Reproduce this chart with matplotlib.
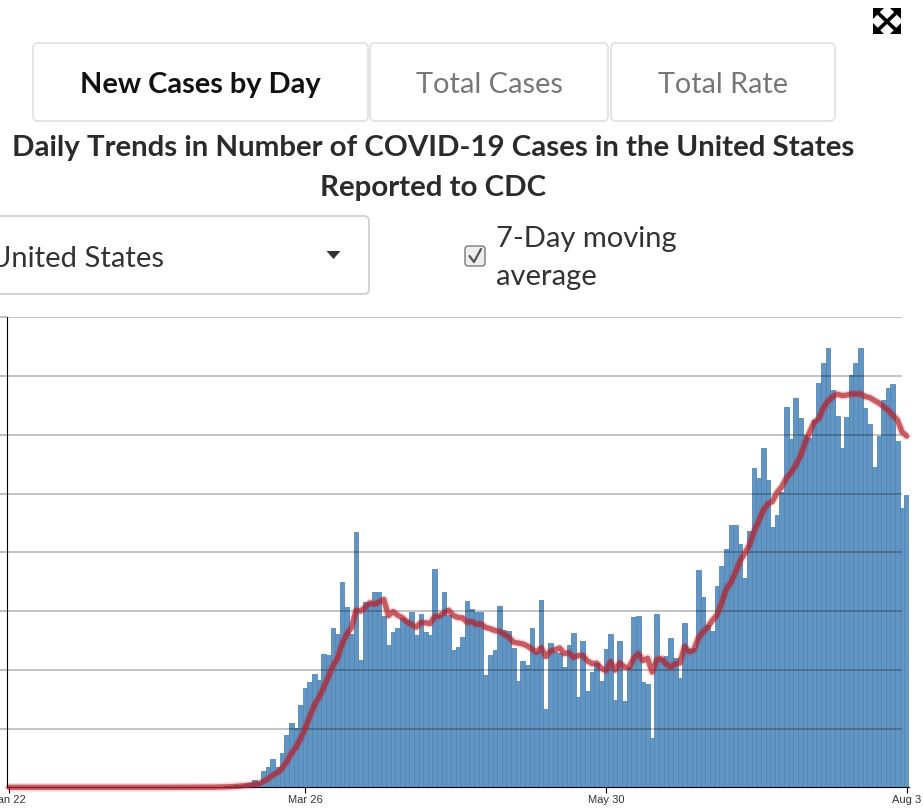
import matplotlib
matplotlib.use('Agg')
import matplotlib.pyplot as plt
from matplotlib.patches import FancyBboxPatch, Polygon
import numpy as np
import pandas as pd

# ---------------- data ----------------
start_date = "2020-01-22"
daily_cases = [
    1, 0, 0, 0, 1, 0, 0, 0, 0, 1, 0, 1, 0, 0, 0, 0, 1, 0, 0, 0,
    0, 0, 0, 0, 0, 0, 0, 0, 1, 0, 0, 0, 1, 2, 3, 5, 8, 6, 9,
    10, 20, 25, 30, 40, 60, 90, 130, 190, 250, 330, 450, 560, 650,
    1250, 900, 2780, 3510, 4820, 3510, 5780, 8900, 10940, 10040, 14000, 16850,
    17870, 19290, 18270, 22690, 22520, 27120, 26100, 34950, 30690, 26100,
    43460, 21670, 31540, 31540, 33240, 33240, 29160, 24220, 26440, 27120,
    28760, 28480, 29840, 25980, 29500, 26440, 25980, 37160, 29330, 33240,
    29330, 23370, 23940, 25640, 31710, 30350, 29840, 29840, 19170, 22460,
    23370, 30860, 26800, 26600, 23710, 18100, 21500, 20880, 27120, 23090,
    31880, 13330, 24560, 23090, 22860, 20540, 24220, 26270, 15370, 24900,
    16390, 19630, 21100, 18100, 23540, 26100, 14860, 24900, 14690, 20540,
    28990, 29160, 17930, 17590, 8400, 29500, 21950, 22350, 25410, 22010,
    18610, 27970, 23500, 23700, 36990, 32390, 27700, 26600, 34260, 37670,
    40560, 44650, 44650, 41410, 35630, 43620, 54350, 52650, 57750, 52310,
    44310, 46350, 50320, 64730, 59280, 66260, 62860, 60000, 59500, 62500,
    68760, 72160, 74710, 67620, 63190, 57800, 63020, 70170, 72270, 74710,
    64560, 61830, 54570, 59790, 65920, 67960, 68640, 58940, 47540, 49750,
]
tick_dates = ["2020-01-22", "2020-03-26", "2020-05-30", "2020-08-03"]
tick_labels = ["Jan 22", "Mar 26", "May 30", "Aug 3"]
y_grid = [10000, 20000, 30000, 40000, 50000, 60000, 70000, 80000]
tab_labels = ["New Cases by Day", "Total Cases", "Total Rate"]
title_lines = ["Daily Trends in Number of COVID-19 Cases in the United States",
               "Reported to CDC"]
region_label = "United States"
checkbox_lines = ["7-Day moving", "average"]

# ---------------- figure ----------------
W, H = 923, 810
fig = plt.figure(figsize=(W / 100, H / 100), dpi=100)
fig.patch.set_facecolor('white')

# UI overlay axes in pixel coordinates
ui = fig.add_axes([0, 0, 1, 1])
ui.set_xlim(0, W)
ui.set_ylim(H, 0)
ui.axis('off')
ui.patch.set_alpha(0)

renderer = fig.canvas.get_renderer()


def fit(t, target_w):
    w = t.get_window_extent(renderer).width
    t.set_fontsize(t.get_fontsize() * target_w / w)


# Tabs
tab_boxes = [(33, 368), (370, 608), (611, 835)]
tab_text_w = [241, 147, 130]
tab_colors = ['#111111', '#777777', '#777777']
tab_weights = ['bold', 'normal', 'normal']
for (x0, x1), lab, tw, c, fw in zip(tab_boxes, tab_labels, tab_text_w, tab_colors, tab_weights):
    ui.add_patch(FancyBboxPatch((x0, 43), x1 - x0, 78,
                                boxstyle='round,pad=0,rounding_size=5',
                                ec='#e2e2e2', fc='white', lw=1.3))
    t = ui.text((x0 + x1) / 2, 93, lab, ha='center', va='baseline',
                fontfamily='Lato', fontweight=fw, color=c, fontsize=20)
    fit(t, tw)

# Title
t1 = ui.text(433, 156, title_lines[0], ha='center', va='baseline',
             fontfamily='Lato', fontweight='bold', color='#2b2b2b', fontsize=20)
fit(t1, 844)
t2 = ui.text(433, 196, title_lines[1], ha='center', va='baseline',
             fontfamily='Lato', fontweight='bold', color='#2b2b2b',
             fontsize=t1.get_fontsize())

# Dropdown
ui.add_patch(FancyBboxPatch((-10, 216), 379, 78,
                            boxstyle='round,pad=0,rounding_size=5',
                            ec='#d0d0d0', fc='white', lw=1.3))
c1 = ui.text(496, 247, checkbox_lines[0], ha='left', va='baseline',
             fontfamily='Lato', color='#333333', fontsize=20)
fit(c1, 181)
fs_ui = c1.get_fontsize()
ui.text(496, 285, checkbox_lines[1], ha='left', va='baseline',
        fontfamily='Lato', color='#333333', fontsize=fs_ui)
ui.text(164, 267, region_label, ha='right', va='baseline',
        fontfamily='Lato', color='#333333', fontsize=fs_ui)
ui.add_patch(Polygon([(326.5, 251), (340.5, 251), (333.5, 259)], closed=True,
                     fc='#333333', ec='none'))

# Checkbox
ui.add_patch(FancyBboxPatch((465, 246), 20, 20,
                            boxstyle='round,pad=0,rounding_size=3',
                            ec='#7a7a7a', fc='#eeeeee', lw=1.0))
ui.plot([469.5, 474, 481], [256, 262, 249], color='#555555', lw=1.6,
        solid_capstyle='round', solid_joinstyle='round')

# Expand icon (top right)
ui.plot([877, 897], [12, 31], color='black', lw=2.6)
ui.plot([897, 877], [12, 31], color='black', lw=2.6)
for tri in ([(873, 8), (884, 8), (873, 19)],
            [(901, 8), (890, 8), (901, 19)],
            [(873, 34), (884, 34), (873, 23)],
            [(901, 34), (890, 34), (901, 23)]):
    ui.add_patch(Polygon(tri, closed=True, fc='black', ec='none'))

# ---------------- chart ----------------
ax_left, ax_right = 7.5, 909.0
ax_top, ax_bottom = 317.3, 787.3
ax = fig.add_axes([ax_left / W, 1 - ax_bottom / H,
                   (ax_right - ax_left) / W, (ax_bottom - ax_top) / H])
ax.patch.set_alpha(0)

dates = pd.date_range(start_date, periods=len(daily_cases), freq='D')
days = np.arange(len(dates))
ax.bar(days, daily_cases, width=1.0, color='#6295c2', edgecolor='#5088ba',
       linewidth=0.6, zorder=2)
ma = pd.Series(daily_cases).rolling(7, min_periods=1).mean()
# soft halo + main moving-average line
ax.plot(days, ma, color='#c0303a', alpha=0.18, lw=6.0, zorder=4,
        solid_capstyle='round', solid_joinstyle='round', clip_on=False)
ax.plot(days, ma, color='#b41e28', alpha=0.68, lw=3.8, zorder=4,
        solid_capstyle='round', solid_joinstyle='round', clip_on=False)

ax.set_xlim(-0.32, 194.5)
ax.set_ylim(0, 80000)
ax.hlines(y_grid, -0.32, 193.0, colors='black', alpha=0.28, lw=1.2, zorder=3)

tick_pos = [int((pd.Timestamp(d) - pd.Timestamp(start_date)).days) for d in tick_dates]
ax.set_xticks(tick_pos)
ax.set_xticklabels(tick_labels, fontfamily='Liberation Sans', fontsize=8,
                   color='#333333')
ax.tick_params(axis='x', length=4, width=0.8, pad=1.5, color='black')
ax.set_yticks(y_grid)
ax.set_yticklabels([])
ax.tick_params(axis='y', length=5.4, width=1.2, color=(0, 0, 0, 0.3))

for s in ['top', 'right']:
    ax.spines[s].set_visible(False)
for s in ['left', 'bottom']:
    ax.spines[s].set_color('black')
    ax.spines[s].set_linewidth(0.8)
ax.spines['left'].set_zorder(5)

fig.savefig('out.png', dpi=100, facecolor='white')
